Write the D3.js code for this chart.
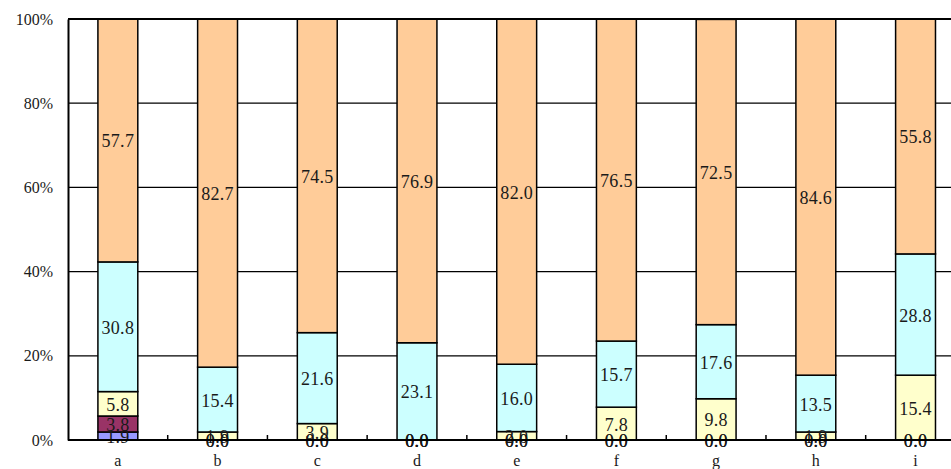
<!DOCTYPE html>
<html>
<head>
<meta charset="utf-8">
<script src="https://cdn.jsdelivr.net/npm/d3@7"></script>
<style>
html,body{margin:0;padding:0;background:#fff;overflow:hidden;}
svg{display:block;}
text{font-family:"Liberation Serif","DejaVu Serif",serif;fill:#1a1a1a;}
</style>
</head>
<body>
<svg id="chart" width="951" height="469"></svg>
<script>
const categories = ["a","b","c","d","e","f","g","h","i"];
const seriesNames = ["s1","s2","s3","s4","s5"];
const s1 = [1.9, 0.0, 0.0, 0.0, 0.0, 0.0, 0.0, 0.0, 0.0];
const s2 = [3.8, 0.0, 0.0, 0.0, 0.0, 0.0, 0.0, 0.0, 0.0];
const s3 = [5.8, 1.9, 3.9, 0.0, 2.0, 7.8, 9.8, 1.9, 15.4];
const s4 = [30.8, 15.4, 21.6, 23.1, 16.0, 15.7, 17.6, 13.5, 28.8];
const s5 = [57.7, 82.7, 74.5, 76.9, 82.0, 76.5, 72.5, 84.6, 55.8];
const yTicks = [0, 20, 40, 60, 80, 100];
const colors = ["#9999FF", "#993366", "#FFFFCC", "#CCFFFF", "#FFCC99"];

const seriesValues = [s1, s2, s3, s4, s5];
const rows = categories.map((c, i) => {
  const r = {cat: c};
  seriesNames.forEach((s, k) => r[s] = seriesValues[k][i]);
  return r;
});

const margin = {left: 68, top: 19};
const plotW = 897.4, plotH = 421;
const svg = d3.select("#chart");
const g = svg.append("g").attr("transform", `translate(${margin.left},${margin.top})`);

const x = d3.scaleBand().domain(categories).range([0, plotW]).paddingInner(0.6).paddingOuter(0.3);
const xb = d3.scaleBand().domain(categories).range([0, plotW]);
const y = d3.scaleLinear().domain([0, 100]).range([plotH, 0]);

// gridlines
g.append("g").selectAll("line").data(yTicks.filter(t => t > 0 && t < 100)).join("line")
  .attr("x1", 0).attr("x2", plotW)
  .attr("y1", d => y(d)).attr("y2", d => y(d))
  .attr("stroke", "#000").attr("stroke-width", 1.3);

// stacked bars
const stack = d3.stack().keys(seriesNames)(rows);
const layers = g.append("g").selectAll("g").data(stack).join("g")
  .attr("fill", (d, i) => colors[i]);
layers.selectAll("rect").data(d => d).join("rect")
  .attr("x", d => x(d.data.cat))
  .attr("width", x.bandwidth())
  .attr("y", d => y(d[1]))
  .attr("height", d => y(d[0]) - y(d[1]))
  .attr("stroke", "#000").attr("stroke-width", 1.5);

// value labels
const labels = g.append("g");
stack.forEach((layer, k) => {
  labels.selectAll(null).data(layer).join("text")
    .attr("x", d => x(d.data.cat) + x.bandwidth() / 2)
    .attr("y", d => (y(d[0]) + y(d[1])) / 2 + 1)
    .attr("text-anchor", "middle")
    .attr("dominant-baseline", "central")
    .attr("font-size", 18)
    .attr("letter-spacing", 0.3)
    .text(d => (d[1] - d[0]).toFixed(1));
});

// top border
g.append("line").attr("x1", 0).attr("x2", plotW).attr("y1", 0).attr("y2", 0)
  .attr("stroke", "#000").attr("stroke-width", 2);

// y axis
const yAxis = g.append("g").call(d3.axisLeft(y).tickValues(yTicks).tickSize(0).tickPadding(15).tickFormat(d => d + "%"));
yAxis.select(".domain").attr("stroke", "#000").attr("stroke-width", 2);
yAxis.selectAll("text").attr("font-size", 16).attr("fill", "#1a1a1a").attr("font-family", "Liberation Serif");

// x axis with inward ticks at category boundaries
const xAxisG = g.append("g").attr("transform", `translate(0,${plotH})`);
xAxisG.append("line").attr("x1", 0).attr("x2", plotW).attr("y1", 0).attr("y2", 0)
  .attr("stroke", "#000").attr("stroke-width", 2);
xAxisG.selectAll("line.tick").data(categories.slice(1)).join("line")
  .attr("class", "tick")
  .attr("x1", d => xb(d)).attr("x2", d => xb(d))
  .attr("y1", 0).attr("y2", -5)
  .attr("stroke", "#000").attr("stroke-width", 1.5);
xAxisG.selectAll("text").data(categories).join("text")
  .attr("x", d => xb(d) + xb.bandwidth() / 2)
  .attr("y", 20)
  .attr("text-anchor", "middle")
  .attr("dominant-baseline", "central")
  .attr("font-size", 16)
  .text(d => d);
</script>
</body>
</html>
